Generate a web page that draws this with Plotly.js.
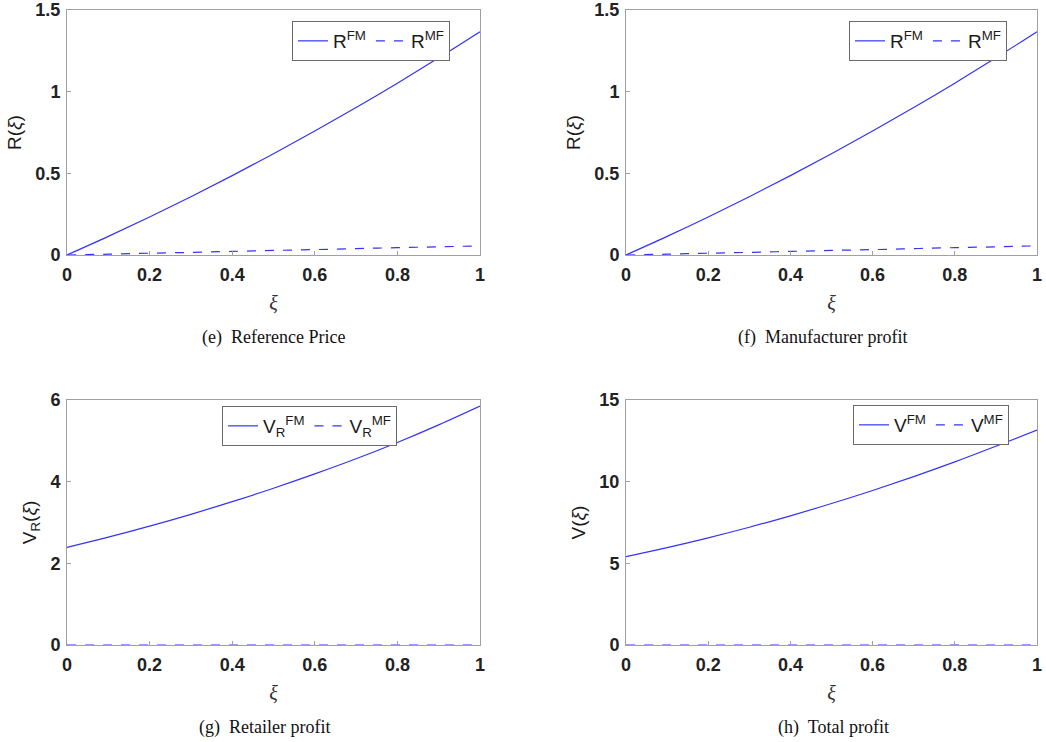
<!DOCTYPE html>
<html>
<head>
<meta charset="utf-8">
<script src="https://cdn.plot.ly/plotly-3.0.1.min.js"></script>
<style>html,body{margin:0;padding:0;background:#fff;}#chart{width:1046px;height:742px;}</style>
</head>
<body>
<div id="chart"></div>
<script>
// data
const xi = [0, 0.1, 0.2, 0.3, 0.4, 0.5, 0.6, 0.7, 0.8, 0.9, 1.0];
const R_FM = [0, 0.114, 0.233, 0.357, 0.486, 0.620, 0.759, 0.903, 1.052, 1.207, 1.367];
const R_MF = [0, 0.005, 0.011, 0.016, 0.022, 0.028, 0.033, 0.039, 0.045, 0.050, 0.056];
const VR_FM = [2.39, 2.64, 2.91, 3.20, 3.51, 3.84, 4.19, 4.56, 4.96, 5.39, 5.85];
const VR_MF = [0, 0, 0, 0, 0, 0, 0, 0, 0, 0, 0];
const V_FM = [5.41, 5.96, 6.56, 7.21, 7.91, 8.66, 9.46, 10.31, 11.21, 12.17, 13.16];
const V_MF = [0, 0, 0, 0, 0, 0, 0, 0, 0, 0, 0];
const xTicks = [0, 0.2, 0.4, 0.6, 0.8, 1];
const xTickText = ["0", "0.2", "0.4", "0.6", "0.8", "1"];
const captions = ["(e)  Reference Price", "(f)  Manufacturer profit", "(g)  Retailer profit", "(h)  Total profit"];

const blue = "#3434f4";
function tr(y, name, dash, ax, leg) {
  return {x: xi, y: y, name: name, type: "scatter", mode: "lines",
    line: {color: blue, width: 1.2, dash: dash, shape: "spline", smoothing: 1},
    xaxis: "x" + ax, yaxis: "y" + ax, legend: leg};
}
const data = [
  tr(R_FM, "R<sup>FM</sup>", "solid", "", "legend"),
  tr(R_MF, "R<sup>MF</sup>", "dash", "", "legend"),
  tr(R_FM, "R<sup>FM</sup>", "solid", "2", "legend2"),
  tr(R_MF, "R<sup>MF</sup>", "dash", "2", "legend2"),
  tr(VR_FM, "V<sub>R</sub><sup>FM</sup>", "solid", "3", "legend3"),
  tr(VR_MF, "V<sub>R</sub><sup>MF</sup>", "dash", "3", "legend3"),
  tr(V_FM, "V<sup>FM</sup>", "solid", "4", "legend4"),
  tr(V_MF, "V<sup>MF</sup>", "dash", "4", "legend4")
];

const W = 1046, H = 742;
const tickFont = {family: "Liberation Sans, Arial, sans-serif", size: 18, color: "#222", weight: "bold"};
function xa(l, r, anchor) {
  return {domain: [l / W, r / W], range: [0, 1], anchor: anchor, tickvals: xTicks, ticktext: xTickText,
    showgrid: false, zeroline: false, showline: true, mirror: true, linecolor: "#a0a0a0", linewidth: 1,
    ticks: "inside", ticklen: 4, tickcolor: "#a0a0a0", tickfont: tickFont, ticklabelstandoff: 3,
    title: {text: "<i>ξ</i>", font: {family: "Liberation Serif, serif", size: 20, color: "#333"}, standoff: 12}};
}
function ya(t, b, anchor, range, dtick, title) {
  return {domain: [1 - b / H, 1 - t / H], range: range, anchor: anchor, dtick: dtick,
    showgrid: false, zeroline: false, showline: true, mirror: true, linecolor: "#a0a0a0", linewidth: 1,
    ticks: "inside", ticklen: 4, tickcolor: "#a0a0a0", tickfont: tickFont, ticklabelstandoff: 2,
    title: {text: title, font: {family: "Liberation Sans, Arial, sans-serif", size: 19, color: "#1a1a1a"}, standoff: 8}};
}
function leg(x, y) {
  return {x: x / W, y: 1 - y / H, xanchor: "left", yanchor: "top", orientation: "h",
    bordercolor: "#6a6a6a", borderwidth: 1, bgcolor: "#fff",
    font: {family: "Liberation Sans, Arial, sans-serif", size: 19, color: "#1a1a1a"},
    itemwidth: 30, tracegroupgap: 0};
}
function cap(text, x, y) {
  return {text: text, x: x / W, y: 1 - y / H, xref: "paper", yref: "paper", showarrow: false,
    xanchor: "center", yanchor: "middle",
    font: {family: "Liberation Serif, Times New Roman, serif", size: 18, color: "#111"}};
}
const yt = "R(<i>ξ</i>)";
const layout = {
  width: W, height: H, margin: {l: 0, r: 0, t: 0, b: 0},
  paper_bgcolor: "#fff", plot_bgcolor: "#fff", showlegend: true,
  xaxis: xa(67, 480, "y"), yaxis: ya(10, 255, "x", [0, 1.5], 0.5, yt),
  xaxis2: xa(626, 1037, "y2"), yaxis2: ya(10, 255, "x2", [0, 1.5], 0.5, yt),
  xaxis3: xa(67, 480, "y3"), yaxis3: ya(400, 645, "x3", [0, 6], 2, "V<sub>R</sub>(<i>ξ</i>)"),
  xaxis4: xa(626, 1037, "y4"), yaxis4: ya(400, 645, "x4", [0, 15], 5, "V(<i>ξ</i>)"),
  legend: leg(292, 21), legend2: leg(849, 21), legend3: leg(222, 406), legend4: leg(853, 405),
  annotations: [cap(captions[0], 273, 337), cap(captions[1], 822, 337),
    cap(captions[2], 264, 727), cap(captions[3], 833, 727)]
};
Plotly.newPlot("chart", data, layout, {staticPlot: true});
</script>
</body>
</html>
